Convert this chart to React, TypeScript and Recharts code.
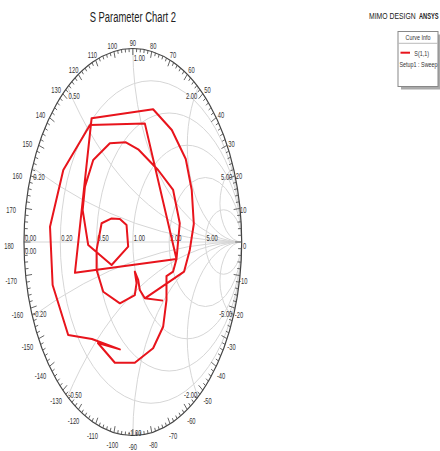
import { LineChart, Line, XAxis, YAxis, Customized, usePlotArea } from "recharts";

const s11Re = [
  0.278, 0.11, 0.064, 0.049, 0.018, 0.034, 0.018, -0.119, -0.272, -0.333,
  -0.333, -0.287, -0.195, -0.119, -0.058, -0.043, -0.195, -0.41, -0.461, -0.44,
  -0.364, -0.211, -0.064, 0.049, 0.232, 0.37, 0.431, 0.401, 0.37, 0.309,
  0.309, 0.278, 0.186, 0.018, -0.165, -0.321, -0.119, -0.376, -0.594, -0.737,
  -0.761, -0.639, -0.394, 0.11, 0.401, -0.532, -0.379, 0.186, 0.358, 0.486,
  0.541, 0.56, 0.523, 0.471, 0.11,
];
const s11Im = [
  -0.303, -0.291, -0.248, -0.196, -0.153, -0.213, -0.274, -0.317, -0.257, -0.145,
  -0.041, 0.097, 0.122, 0.119, 0.088, -0.024, -0.119, -0.016, 0.165, 0.286,
  0.424, 0.51, 0.515, 0.479, 0.372, 0.269, 0.097, -0.088, -0.153, -0.176,
  -0.3, -0.438, -0.549, -0.624, -0.624, -0.522, -0.555, -0.501, -0.481, -0.222,
  0.079, 0.372, 0.605, 0.613, -0.088, -0.159, 0.639, 0.686, 0.579, 0.429,
  0.269, 0.093, -0.041, -0.153, -0.291,
];

const resistanceValues = [0.2, 0.5, 1, 2, 5];
const reactanceValues = [0.2, 0.5, 1, 2, 5];
const resistanceLabels = ["0.00", "0.20", "0.50", "1.00", "2.00", "5.00"];
const reactanceLabels = ["0.20", "0.50", "1.00", "2.00", "5.00"];
const angleLabels = [
  0, 10, 20, 30, 40, 50, 60, 70, 80, 90, 100, 110, 120, 130, 140, 150, 160, 170, 180,
  -170, -160, -150, -140, -130, -120, -110, -100, -90, -80, -70, -60, -50, -40, -30, -20, -10,
];

const data = s11Re.map((re, i) => ({ re, im: s11Im[i] }));

const FONT = "Arial, 'Liberation Sans', sans-serif";

function Txt({ x, y, children, size = 8.5, anchor = "middle", sx = 0.68, fill = "#333", weight = "normal" }: any) {
  return (
    <text
      transform={`translate(${x},${y}) scale(${sx},1)`}
      fontSize={size}
      textAnchor={anchor}
      fontFamily={FONT}
      fill={fill}
      fontWeight={weight}
    >
      {children}
    </text>
  );
}

function SmithGrid() {
  const plot = usePlotArea();
  if (!plot) return null;
  const W = plot.width;
  const H = plot.height;
  const sx = (g: number) => plot.x + ((g + 1) / 2) * W;
  const sy = (g: number) => plot.y + ((1 - g) / 2) * H;
  const cx = sx(0);
  const cy = sy(0);
  const rx = W / 2;
  const ry = H / 2;
  const grid = "#d6d6d6";

  const ticks = [];
  for (let d = 0; d < 360; d += 2) {
    const t = (d * Math.PI) / 180;
    const c = Math.cos(t);
    const s = Math.sin(t);
    const L = d % 10 === 0 ? 6.5 : 3.5;
    const px = cx + rx * c;
    const py = cy - ry * s;
    ticks.push(<line key={d} x1={px} y1={py} x2={px - L * c} y2={py + L * s} stroke="#555" strokeWidth={0.9} />);
  }

  return (
    <g>
      <defs>
        <clipPath id="smith-clip">
          <ellipse cx={cx} cy={cy} rx={rx} ry={ry} />
        </clipPath>
      </defs>
      <g clipPath="url(#smith-clip)" fill="none" stroke={grid} strokeWidth={1}>
        <line x1={sx(-1)} y1={cy} x2={sx(1)} y2={cy} />
        {resistanceValues.map((r) => (
          <ellipse key={"r" + r} cx={sx(r / (1 + r))} cy={cy} rx={(1 / (1 + r)) * rx} ry={(1 / (1 + r)) * ry} />
        ))}
        {reactanceValues.map((x) => (
          <g key={"x" + x}>
            <ellipse cx={sx(1)} cy={sy(1 / x)} rx={(1 / x) * rx} ry={(1 / x) * ry} />
            <ellipse cx={sx(1)} cy={sy(-1 / x)} rx={(1 / x) * rx} ry={(1 / x) * ry} />
          </g>
        ))}
      </g>
      <ellipse cx={cx} cy={cy} rx={rx} ry={ry} fill="none" stroke="#444" strokeWidth={1.2} />
      {ticks}

      {angleLabels.map((a) => {
        const t = (a * Math.PI) / 180;
        const c = Math.cos(t);
        const s = Math.sin(t);
        const x = cx + (rx + 9) * c - 6 * Math.pow(c, 4);
        const y = Math.min(cy - (ry + 9) * s + 6.5, 449.5);
        return (
          <Txt key={"a" + a} x={x} y={y}>
            {String(a)}
          </Txt>
        );
      })}

      {resistanceLabels.map((lab) => {
        const r = parseFloat(lab);
        const g = (r - 1) / (r + 1);
        return (
          <Txt key={"rl" + lab} x={sx(g) + 1} y={cy - 1.5} anchor="start">
            {lab}
          </Txt>
        );
      })}
      <Txt x={sx(-1) + 1} y={cy + 12} anchor="start">0.00</Txt>

      {reactanceLabels.map((lab) => {
        const x = parseFloat(lab);
        const th = Math.PI - 2 * Math.atan(x);
        const c = Math.cos(th);
        const s = Math.sin(th);
        const px = cx + rx * c;
        const pyTop = cy - ry * s;
        const pyBot = cy + ry * s;
        const top =
          c < -0.01 ? (
            <Txt x={px + 1} y={pyTop + 12} anchor="start">{lab}</Txt>
          ) : c > 0.01 ? (
            <Txt x={px - 1} y={pyTop + 12} anchor="end">{lab}</Txt>
          ) : (
            <Txt x={px + 1} y={pyTop + 12} anchor="start">{lab}</Txt>
          );
        const bot =
          c < -0.01 ? (
            <Txt x={px + 1} y={pyBot + 1} anchor="start">{"-" + lab}</Txt>
          ) : c > 0.01 ? (
            <Txt x={px - 1} y={pyBot + 1} anchor="end">{"-" + lab}</Txt>
          ) : (
            <Txt x={px + 2} y={pyBot} anchor="middle">{"-" + lab}</Txt>
          );
        return (
          <g key={"xl" + lab}>
            {top}
            {bot}
          </g>
        );
      })}

      <Txt x={cx} y={21.7} size={14.5} sx={0.65} fill="#222">S Parameter Chart 2</Txt>
      <Txt x={369} y={19.3} size={9.8} sx={0.7} anchor="start" fill="#222">MIMO DESIGN</Txt>
      <Txt x={419} y={19.3} size={9.8} sx={0.58} anchor="start" fill="#222" weight="bold">ANSYS</Txt>

      <rect x={401} y={34.5} width={40} height={55} fill="#aaa" />
      <rect x={398} y={31.5} width={40} height={55} fill="#fff" stroke="#888" strokeWidth={1} />
      <line x1={398} y1={43.3} x2={438} y2={43.3} stroke="#bbb" strokeWidth={1} />
      <Txt x={418} y={39.5} size={7.5} sx={0.72} fill="#333">Curve Info</Txt>
      <line x1={400.5} y1={52.7} x2={410} y2={52.7} stroke="#e8141c" strokeWidth={2} />
      <Txt x={421.7} y={55.5} size={7.5} sx={0.72} fill="#333">S(1,1)</Txt>
      <Txt x={418.5} y={67} size={7.5} sx={0.72} fill="#333">Setup1 : Sweep</Txt>
    </g>
  );
}

export default function App() {
  return (
    <div style={{ position: "absolute", left: 0, top: 0, background: "#fff" }}>
      <LineChart width={440} height={451} data={data} margin={{ top: 48.5, left: 24, right: 198.3, bottom: 15.5 }}>
        <XAxis type="number" dataKey="re" domain={[-1, 1]} hide allowDataOverflow />
        <YAxis type="number" domain={[-1, 1]} hide allowDataOverflow />
        <Customized component={<SmithGrid />} />
        <Line
          dataKey="im"
          name="S(1,1)"
          stroke="#e8141c"
          strokeWidth={2}
          dot={false}
          activeDot={false}
          strokeLinejoin="round"
          isAnimationActive={false}
        />
      </LineChart>
    </div>
  );
}
